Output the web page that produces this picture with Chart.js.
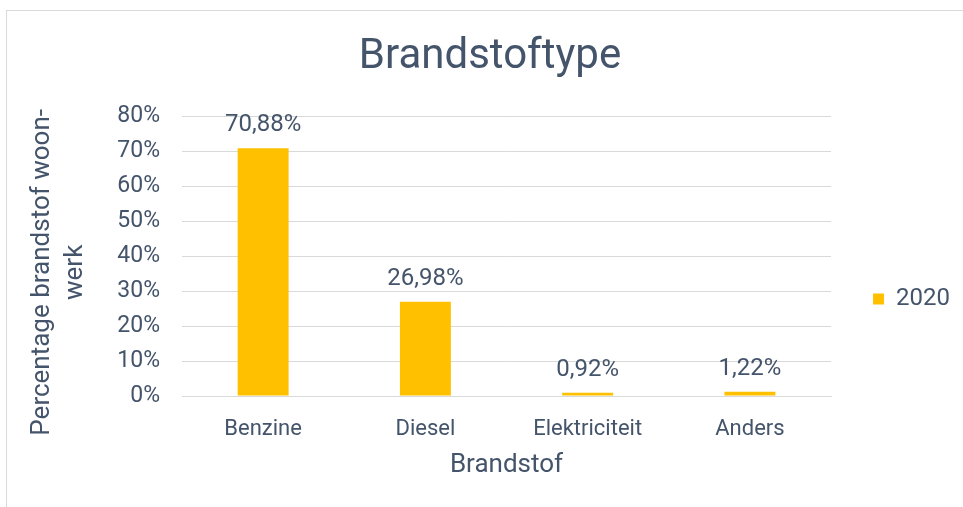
<!DOCTYPE html>
<html>
<head>
<meta charset="utf-8">
<script src="https://cdn.jsdelivr.net/npm/chart.js@4/dist/chart.umd.min.js"></script>
<style>
  html, body { margin: 0; padding: 0; background: #fff; }
  #frame { position: absolute; left: 6px; top: 10px; width: 970px; height: 510px;
           border-left: 1px solid #d9d9d9; border-top: 1px solid #d9d9d9; }
  #wrap { position: absolute; left: 0; top: 0; width: 963px; height: 507px; }
</style>
</head>
<body>
<div id="frame"></div>
<div id="wrap"><canvas id="grafiek" width="963" height="507"></canvas></div>
<script>
const categorieen = ['Benzine', 'Diesel', 'Elektriciteit', 'Anders'];
const waarden2020 = [70.88, 26.98, 0.92, 1.22];
const reeksNaam = '2020';

const tekstKleur = '#44546A';
const balkKleur = '#FFC000';
const rasterKleur = '#d9d9d9';
const font = 'Roboto';

// labels boven de balken
const balkLabels = {
  id: 'balkLabels',
  afterDatasetsDraw(chart) {
    const c = chart.ctx;
    const meta = chart.getDatasetMeta(0);
    c.save();
    c.font = '24px ' + font;
    c.fillStyle = tekstKleur;
    c.textAlign = 'center';
    c.textBaseline = 'middle';
    meta.data.forEach((bar, i) => {
      const txt = waarden2020[i].toFixed(2).replace('.', ',') + '%';
      c.fillText(txt, bar.x, bar.y - 23);
    });
    c.restore();
  }
};

new Chart(document.getElementById('grafiek'), {
  type: 'bar',
  data: {
    labels: categorieen,
    datasets: [{
      label: reeksNaam,
      data: waarden2020,
      backgroundColor: balkKleur,
      borderWidth: 0,
      categoryPercentage: 1,
      barPercentage: 0.314
    }]
  },
  options: {
    responsive: false,
    animation: false,
    layout: { padding: { left: 20, right: 3, top: 0, bottom: 22.4 } },
    plugins: {
      title: {
        display: true,
        text: 'Brandstoftype',
        color: tekstKleur,
        font: { family: font, size: 42, weight: 'normal' },
        padding: { top: 32, bottom: 34 }
      },
      legend: {
        position: 'right',
        align: 'start',
        // lege titel als ruimte boven het legenda-item
        title: { display: true, text: ' ', font: { size: 10 }, padding: { top: 233, bottom: 0 } },
        labels: {
          boxWidth: 11,
          boxHeight: 11,
          padding: 42,
          color: tekstKleur,
          font: { family: font, size: 24 }
        }
      },
      tooltip: { enabled: false }
    },
    scales: {
      x: {
        afterFit(scale) { scale.height = 88.6; },
        grid: { display: false, drawTicks: false },
        border: { display: true, color: rasterKleur, width: 1 },
        ticks: { color: tekstKleur, font: { family: font, size: 22 }, padding: 20 },
        title: {
          display: true,
          text: 'Brandstof',
          color: tekstKleur,
          font: { family: font, size: 26 },
          padding: { top: 9, bottom: 4 }
        }
      },
      y: {
        min: 0,
        max: 80,
        afterFit(scale) { scale.width = 162; },
        grid: { color: rasterKleur, lineWidth: 1, drawTicks: false },
        border: { display: false },
        ticks: {
          stepSize: 10,
          color: tekstKleur,
          font: { family: font, size: 23 },
          padding: 22,
          callback: v => v + '%'
        },
        title: {
          display: true,
          text: ['Percentage brandstof woon-     ', 'werk     '],
          color: tekstKleur,
          font: { family: font, size: 26, lineHeight: 1.27 },
          padding: { top: 5.5, bottom: 0 }
        }
      }
    }
  },
  plugins: [balkLabels]
});
</script>
</body>
</html>
